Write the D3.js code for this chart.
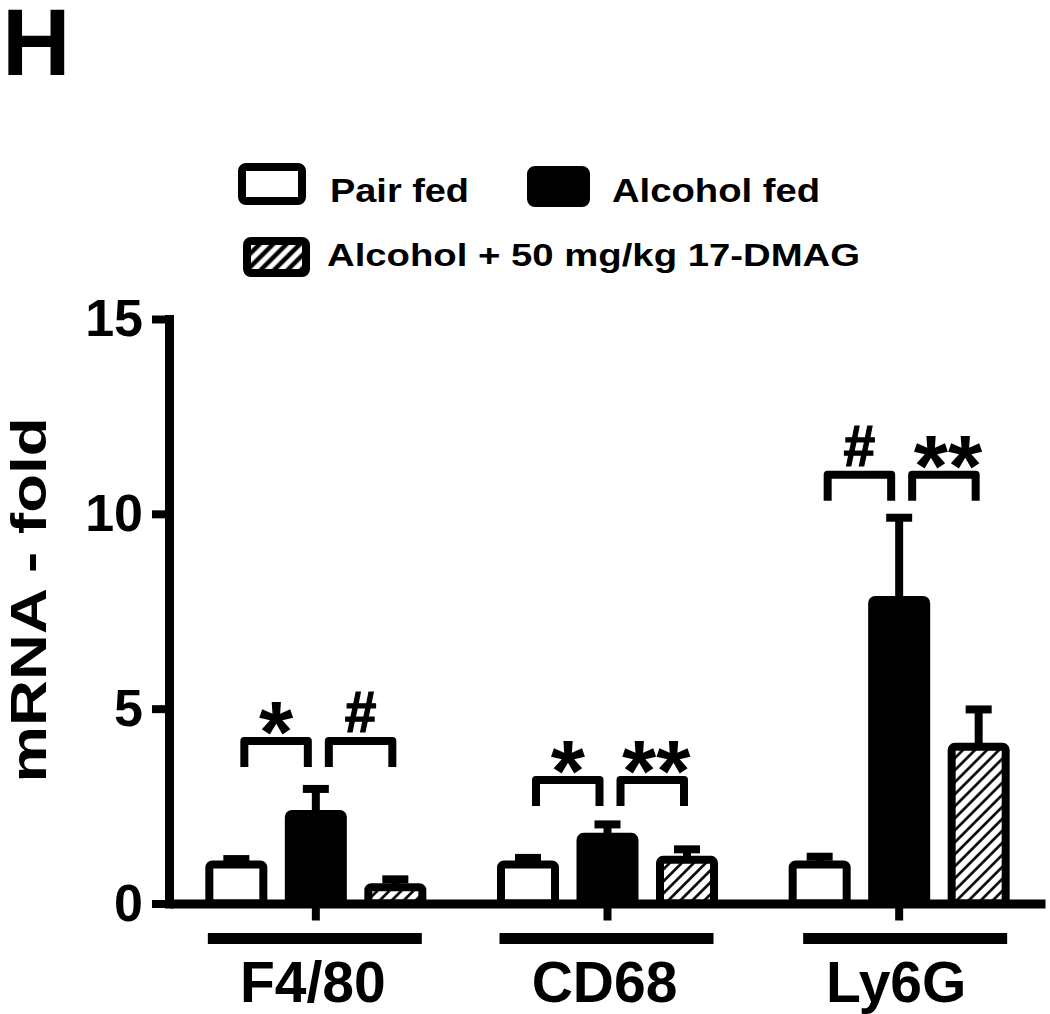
<!DOCTYPE html>
<html>
<head>
<meta charset="utf-8">
<script src="https://cdn.jsdelivr.net/npm/d3@7"></script>
<style>
  html, body { margin: 0; padding: 0; background: #fff; }
  svg { display: block; font-family: "Liberation Sans", Arial, sans-serif; font-weight: bold; }
</style>
</head>
<body>
<svg id="chart" width="1050" height="1014"></svg>
<script>
// ---- data ----
const categories = ["F4/80", "CD68", "Ly6G"];
const series = ["Pair fed", "Alcohol fed", "Alcohol + 50 mg/kg 17-DMAG"];
const pairFed = [1.0, 1.0, 1.0];
const alcoholFed = [2.30, 1.71, 7.79];
const alcoholDmag = [0.42, 1.12, 4.02];
const pairFedErr = [0.14, 0.17, 0.20];
const alcoholFedErr = [0.64, 0.32, 2.11];
const alcoholDmagErr = [0.20, 0.27, 0.96];
const yTicks = [0, 5, 10, 15];
const bracketLevel = [4.17, 3.17, 11.0];
const sigLeft = ["*", "*", "#"];
const sigRight = ["#", "**", "**"];
const yLabel = "mRNA - fold";
const panelLetter = "H";

const values = [pairFed, alcoholFed, alcoholDmag];
const errors = [pairFedErr, alcoholFedErr, alcoholDmagErr];

const svg = d3.select("#chart");
svg.append("rect").attr("width", 1050).attr("height", 1014).attr("fill", "#fff");

const defs = svg.append("defs");
function hatch(id, size, sw) {
  const p = defs.append("pattern").attr("id", id)
    .attr("patternUnits", "userSpaceOnUse")
    .attr("width", size).attr("height", size)
    .attr("patternTransform", "rotate(45)");
  p.append("rect").attr("width", size).attr("height", size).attr("fill", "#fff");
  p.append("line").attr("x1", size / 2).attr("x2", size / 2)
    .attr("y1", 0).attr("y2", size)
    .attr("stroke", "#000").attr("stroke-width", sw);
}
hatch("hatchBar", 8.5, 2.6);
hatch("hatchLegend", 9.5, 4.5);
const fills = ["#fff", "#000", "url(#hatchBar)"];

// ---- scales ----
const y = d3.scaleLinear().domain([0, 15]).range([903.5, 319]);
const x = d3.scaleBand().domain(categories).range([170, 1045]);
const xs = d3.scalePoint().domain(series).range([-79.5, 79.5]);
const cx = c => x(c) + x.bandwidth() / 2;
const barW = 54;
const underlineShift = [0, 0, 12];
const underlineWidth = [214, 214, 204];

// ---- panel letter ----
svg.append("text").attr("x", 2).attr("y", 75)
  .attr("font-size", 95).text(panelLetter);

// ---- legend ----
const leg = svg.append("g");
leg.append("rect").attr("x", 242).attr("y", 167).attr("width", 60).attr("height", 34)
  .attr("rx", 4).attr("fill", fills[0]).attr("stroke", "#000").attr("stroke-width", 8);
leg.append("text").attr("x", 330).attr("y", 202).attr("font-size", 34)
  .attr("textLength", 139).attr("lengthAdjust", "spacingAndGlyphs").text(series[0]);
leg.append("rect").attr("x", 531).attr("y", 170).attr("width", 55).attr("height", 33)
  .attr("rx", 4).attr("fill", fills[1]).attr("stroke", "#000").attr("stroke-width", 8);
leg.append("text").attr("x", 612).attr("y", 202).attr("font-size", 34)
  .attr("textLength", 208).attr("lengthAdjust", "spacingAndGlyphs").text(series[1]);
leg.append("rect").attr("x", 247).attr("y", 241).attr("width", 59).attr("height", 32)
  .attr("rx", 4).attr("fill", "url(#hatchLegend)").attr("stroke", "#000").attr("stroke-width", 8);
leg.append("text").attr("x", 327).attr("y", 266).attr("font-size", 31)
  .attr("textLength", 533).attr("lengthAdjust", "spacingAndGlyphs").text(series[2]);

// ---- y axis ----
const yAxis = svg.append("g").attr("transform", "translate(169,0)")
  .call(d3.axisLeft(y).tickValues(yTicks).tickSize(17).tickSizeOuter(0).tickPadding(9));
yAxis.select(".domain").attr("stroke", "#000").attr("stroke-width", 9).attr("stroke-linecap", "square");
yAxis.selectAll(".tick line").attr("stroke", "#000").attr("stroke-width", 8);
yAxis.selectAll(".tick text").attr("font-size", 52).attr("font-family", "Liberation Sans, Arial, sans-serif")
  .attr("font-weight", "bold").attr("fill", "#000");

svg.append("text")
  .attr("transform", "translate(46,600) rotate(-90)")
  .attr("text-anchor", "middle").attr("font-size", 50)
  .attr("textLength", 365).attr("lengthAdjust", "spacingAndGlyphs")
  .text(yLabel);

// ---- bars ----
categories.forEach((c, ci) => {
  const g = svg.append("g");
  series.forEach((s, si) => {
    const v = values[si][ci], e = errors[si][ci];
    const bx = cx(c) + xs(s);
    g.append("rect")
      .attr("x", bx - barW / 2).attr("y", y(v))
      .attr("width", barW).attr("height", y(0) - y(v))
      .attr("rx", 3)
      .attr("fill", fills[si]).attr("stroke", "#000").attr("stroke-width", 8);
    g.append("line").attr("x1", bx).attr("x2", bx).attr("y1", y(v)).attr("y2", y(v + e))
      .attr("stroke", "#000").attr("stroke-width", 8);
    g.append("line").attr("x1", bx - 13).attr("x2", bx + 13).attr("y1", y(v + e)).attr("y2", y(v + e))
      .attr("stroke", "#000").attr("stroke-width", 8);
  });

  // significance brackets
  const top = y(bracketLevel[ci]);
  const spans = [
    [cx(c) + xs(series[0]) + 8, cx(c) + xs(series[1]) - 8, sigLeft[ci]],
    [cx(c) + xs(series[1]) + 13, cx(c) + xs(series[2]) - 3, sigRight[ci]]
  ];
  spans.forEach(([a, b, lab]) => {
    g.append("path")
      .attr("d", `M${a},${top + 26}V${top}H${b}V${top + 26}`)
      .attr("fill", "none").attr("stroke", "#000").attr("stroke-width", 8)
      .attr("stroke-linejoin", "round");
    const mid = (a + b) / 2;
    if (lab.startsWith("*")) {
      g.append("text").attr("x", mid + (lab.length > 1 ? 4 : 0)).attr("y", top + 21)
        .attr("text-anchor", "middle").attr("font-size", 88).text(lab);
    } else {
      g.append("text").attr("x", mid).attr("y", top - 9)
        .attr("text-anchor", "middle").attr("font-size", 57)
        .attr("stroke", "#000").attr("stroke-width", 1.2).text(lab);
    }
  });

  // group underline
  g.append("rect").attr("x", cx(c) - 108 + underlineShift[ci]).attr("y", 933)
    .attr("width", underlineWidth[ci]).attr("height", 11).attr("fill", "#000");
});

// ---- x axis ----
const xAxis = svg.append("g").attr("transform", `translate(0,${y(0)})`)
  .call(d3.axisBottom(x).tickSize(17).tickSizeOuter(0).tickPadding(41));
xAxis.select(".domain").attr("stroke", "#000").attr("stroke-width", 9);
xAxis.selectAll(".tick line").attr("stroke", "#000").attr("stroke-width", 8);
xAxis.selectAll(".tick text").attr("font-size", 57).attr("font-family", "Liberation Sans, Arial, sans-serif")
  .attr("font-weight", "bold").attr("fill", "#000").attr("dx", -3);
</script>
</body>
</html>
